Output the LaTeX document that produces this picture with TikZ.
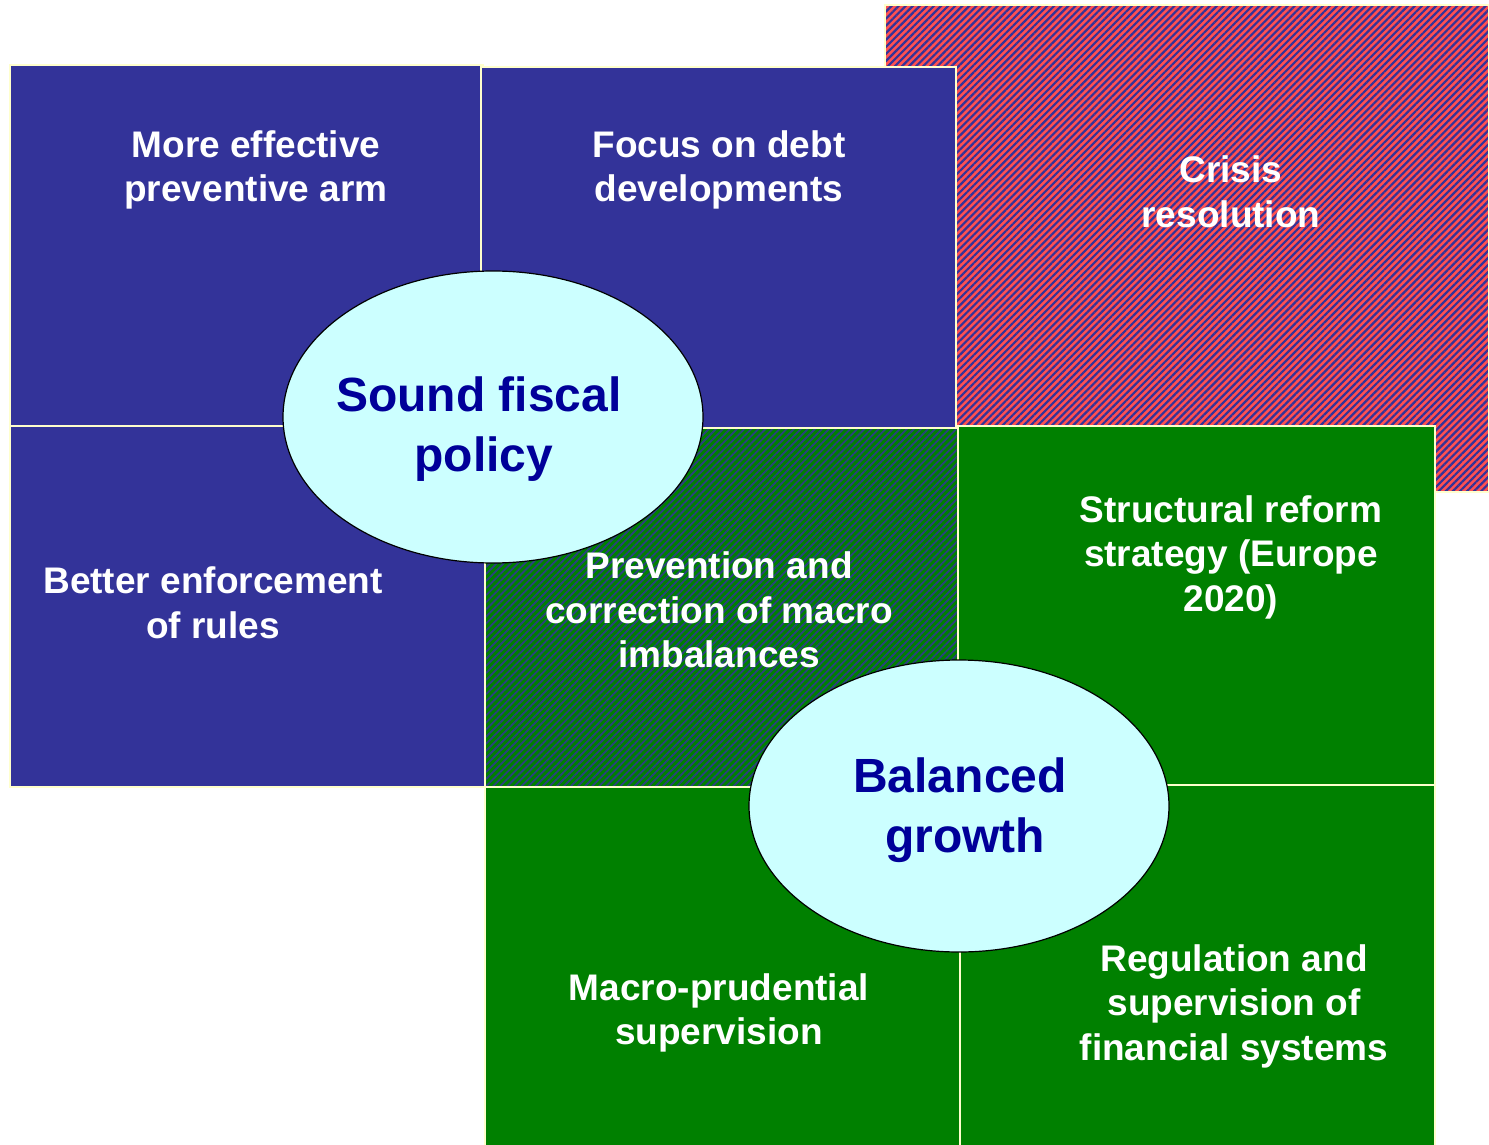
\documentclass[tikz,border=0pt]{standalone}
\usepackage{fontspec}
\setmainfont{Liberation Sans}
\usetikzlibrary{patterns.meta,shapes.geometric}
\definecolor{bluebox}{HTML}{333399}
\definecolor{greenbox}{HTML}{008000}
\definecolor{redhatch}{HTML}{FF5050}
\definecolor{cream}{HTML}{FFFFCC}
\definecolor{ellfill}{HTML}{CCFFFF}
\definecolor{elltext}{HTML}{000099}
\tikzset{
  bluerect/.style={fill=bluebox, draw=cream, line width=1.5pt},
  greenrect/.style={fill=greenbox, draw=cream, line width=1.5pt},
  redhatched/.style={preaction={fill=redhatch}, pattern={Lines[angle=45,distance=5pt,line width=2.2pt]}, pattern color=bluebox, draw=cream, line width=1.5pt},
  greenhatched/.style={preaction={fill=greenbox}, pattern={Lines[angle=45,distance=5pt,line width=1.8pt]}, pattern color=bluebox!85!greenbox, draw=cream, line width=1.5pt},
  oval/.style={ellipse, draw=black, line width=1.2pt, fill=ellfill, minimum width=420pt, minimum height=292pt, inner sep=0pt},
  boxtext/.style={text=white, align=center, font=\fontsize{37}{44.5}\selectfont\bfseries, inner sep=0pt},
  ovaltext/.style={text=elltext, align=center, font=\fontsize{48}{60}\selectfont\bfseries, inner sep=0pt}
}
\begin{document}
\begin{tikzpicture}[x=1pt,y=-1pt]
\useasboundingbox (0,0) rectangle (1489,1145);
% background rectangles
\path[redhatched] (885,5) rectangle (1489,492);
\path[bluerect] (10,65) rectangle (483,426);
\path[bluerect] (481,67) rectangle (956,430);
\path[bluerect] (10,426) rectangle (485,787);
\path[greenhatched] (485,428) rectangle (958,787);
\path[greenrect] (958,426) rectangle (1435,785);
\path[greenrect] (485,787) rectangle (960,1146);
\path[greenrect] (960,785) rectangle (1435,1146);
% ovals
\node[oval] (fiscal) at (493,417) {};
\node[oval] (growth) at (959,806) {};
% texts
\node[boxtext] (t1) at (256,170) {More effective\\preventive arm};
\node[boxtext] (t2) at (719,170) {Focus on debt\\developments};
\node[boxtext] (t3) at (1231,192) {Crisis\\resolution};
\node[boxtext] (t4) at (213,603) {Better enforcement\\of rules};
\node[boxtext] (t5) at (719,610) {Prevention and\\correction of macro\\imbalances};
\node[boxtext] (t6) at (1231,557) {Structural reform\\strategy (Europe\\2020)};
\node[boxtext] (t7) at (719,1013) {Macro-prudential\\supervision};
\node[boxtext] (t8) at (1234,1006) {Regulation and\\supervision of\\financial systems};
\node[ovaltext] (o1) at (479,429) {Sound fiscal\\\hspace{10pt}policy};
\node[ovaltext] (o2) at (960,810) {Balanced\\\hspace{10pt}growth};
\end{tikzpicture}
\end{document}
